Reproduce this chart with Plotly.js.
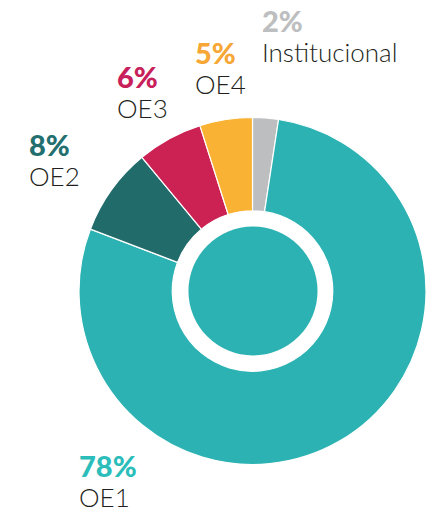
<!DOCTYPE html>
<html>
<head>
<meta charset="utf-8">
<script src="https://cdn.plot.ly/plotly-3.0.1.min.js"></script>
<style>
html,body{margin:0;padding:0;background:#fff;overflow:hidden;}
#chart{width:426px;height:511px;}
</style>
</head>
<body>
<div id="chart"></div>
<script>
// Data (clockwise from 12 o'clock)
const categories = ["Institucional", "OE1", "OE2", "OE3", "OE4"];
const values = [2.4, 78.4, 8.2, 6.1, 4.9];
const pctLabels = ["2%", "78%", "8%", "6%", "5%"];
const sliceColors = ["#BCBEC0", "#2DB2B3", "#226B6B", "#CB2253", "#F9B233"];
const pctColors = ["#BDBEC0", "#2BBDBA", "#236E6E", "#C8205A", "#F7A735"];

const W = 426, H = 511;
const cx = 253, cy = 291, R = 174, holeR = 80.5, innerR = 64.5;

const outer = {
  type: "pie",
  labels: categories,
  values: values,
  sort: false,
  direction: "clockwise",
  rotation: 0,
  hole: holeR / R,
  textinfo: "none",
  hoverinfo: "label+percent",
  marker: { colors: sliceColors, line: { color: "#ffffff", width: 1.2 } },
  domain: { x: [(cx - R) / W, Math.min(1, (cx + R) / W)], y: [(H - cy - R) / H, (H - cy + R) / H] },
  showlegend: false
};

const inner = {
  type: "pie",
  labels: ["centro"],
  values: [1],
  textinfo: "none",
  hoverinfo: "skip",
  marker: { colors: ["#2DB2B3"], line: { width: 0 } },
  domain: { x: [(cx - innerR) / W, (cx + innerR) / W], y: [(H - cy - innerR) / H, (H - cy + innerR) / H] },
  showlegend: false
};

// label anchor positions (px, top-left) for each category
const labelPos = {
  "Institucional": [260, 1],
  "OE1": [77, 446],
  "OE2": [27, 125],
  "OE3": [115, 57],
  "OE4": [193, 33]
};

const annotations = categories.map((c, i) => {
  const p = labelPos[c];
  return {
    xref: "paper", yref: "paper", x: p[0] / W, y: (H - p[1]) / H,
    xanchor: "left", yanchor: "top", showarrow: false, align: "left",
    text: '<span style="font-size:29px;font-weight:900;color:' + pctColors[i] + '">' + pctLabels[i] +
          '</span><br><span style="font-size:26px">' + c + '</span>',
    font: { family: "Lato, sans-serif", size: 23, weight: 300, color: "#231F20" }
  };
});

Plotly.newPlot("chart", [outer, inner], {
  width: W, height: H,
  margin: { l: 0, r: 0, t: 0, b: 0, pad: 0 },
  paper_bgcolor: "#ffffff",
  annotations: annotations
}, { displayModeBar: false, staticPlot: true });
</script>
</body>
</html>
